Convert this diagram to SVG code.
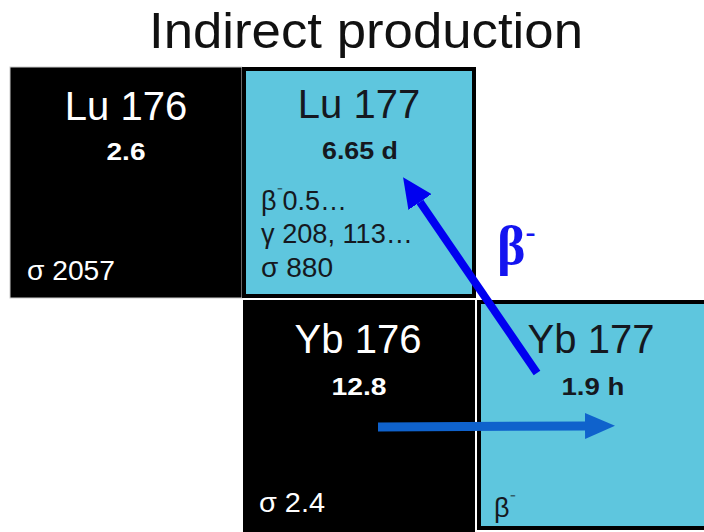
<svg xmlns="http://www.w3.org/2000/svg" width="704" height="532" viewBox="0 0 704 532">
<style>
.t{font-family:"Liberation Sans",Arial,sans-serif}
.w{fill:#ffffff}
.k{fill:#151820}
.big{font-size:40px}
.hl{font-size:24px;font-weight:bold}
.sm{font-size:27px}
.blk{fill:#000000}
.cy{fill:#5EC6DE;stroke:#000000;stroke-width:4}
</style>
<defs>
<marker id="hb" markerUnits="userSpaceOnUse" markerWidth="30" markerHeight="28" refX="0" refY="14" orient="auto" viewBox="0 0 30 28">
<path d="M0,0 L30,14 L0,28 Z" fill="#0000F0"/>
</marker>
<marker id="hh" markerUnits="userSpaceOnUse" markerWidth="30" markerHeight="28" refX="0" refY="13" orient="auto" viewBox="0 0 30 26">
<path d="M0,0 L30,13 L0,26 Z" fill="#0F62CC"/>
</marker>
</defs>
<rect width="704" height="532" fill="#ffffff"/>
<text class="t" x="366" y="48" text-anchor="middle" font-size="50" fill="#111111" textLength="434" lengthAdjust="spacingAndGlyphs">Indirect production</text>

<g id="lu176">
<rect x="10" y="67" width="232" height="231" class="blk" stroke="#cccccc" stroke-width="1"/>
<text class="t w big" x="126" y="120" text-anchor="middle">Lu 176</text>
<text class="t w hl" x="126" y="160" text-anchor="middle" textLength="39" lengthAdjust="spacingAndGlyphs">2.6</text>
<text class="t w sm" x="27" y="280" textLength="88" lengthAdjust="spacingAndGlyphs">σ 2057</text>
</g>

<g id="lu177">
<rect x="244" y="69" width="230" height="227" class="cy"/>
<text class="t k big" x="359" y="118" text-anchor="middle">Lu 177</text>
<text class="t k hl" x="360" y="159" text-anchor="middle" textLength="76" lengthAdjust="spacingAndGlyphs">6.65 d</text>
<text class="t k sm" x="261" y="210">β<tspan font-size="17" dy="-11">⁻</tspan><tspan dy="11">0.5…</tspan></text>
<text class="t k sm" x="261" y="243" textLength="152" lengthAdjust="spacingAndGlyphs">γ 208, 113…</text>
<text class="t k sm" x="261" y="277" textLength="72" lengthAdjust="spacingAndGlyphs">σ 880</text>
</g>

<g id="yb176">
<rect x="243" y="300" width="232" height="232" class="blk"/>
<text class="t w big" x="358" y="353" text-anchor="middle">Yb 176</text>
<text class="t w hl" x="359" y="395" text-anchor="middle" textLength="55" lengthAdjust="spacingAndGlyphs">12.8</text>
<text class="t w sm" x="259" y="512" textLength="66" lengthAdjust="spacingAndGlyphs">σ 2.4</text>
</g>

<g id="yb177">
<rect x="479" y="302" width="230" height="226" class="cy"/>
<text class="t k big" x="591" y="353" text-anchor="middle">Yb 177</text>
<text class="t k hl" x="593" y="395" text-anchor="middle" textLength="63" lengthAdjust="spacingAndGlyphs">1.9 h</text>
<text class="t k sm" x="494" y="517">β<tspan font-size="17" dy="-11">⁻</tspan></text>
</g>

<g id="connectors">
<line x1="537" y1="373" x2="420" y2="202" stroke="#0000F0" stroke-width="8" marker-end="url(#hb)"/>
<text x="497" y="264" font-family="'Liberation Serif','Times New Roman',serif" font-weight="bold" font-size="54" fill="#1414F0">β<tspan font-size="30" dy="-22">-</tspan></text>
<line x1="378" y1="427" x2="585" y2="426" stroke="#0F62CC" stroke-width="9" marker-end="url(#hh)"/>
</g>
</svg>
